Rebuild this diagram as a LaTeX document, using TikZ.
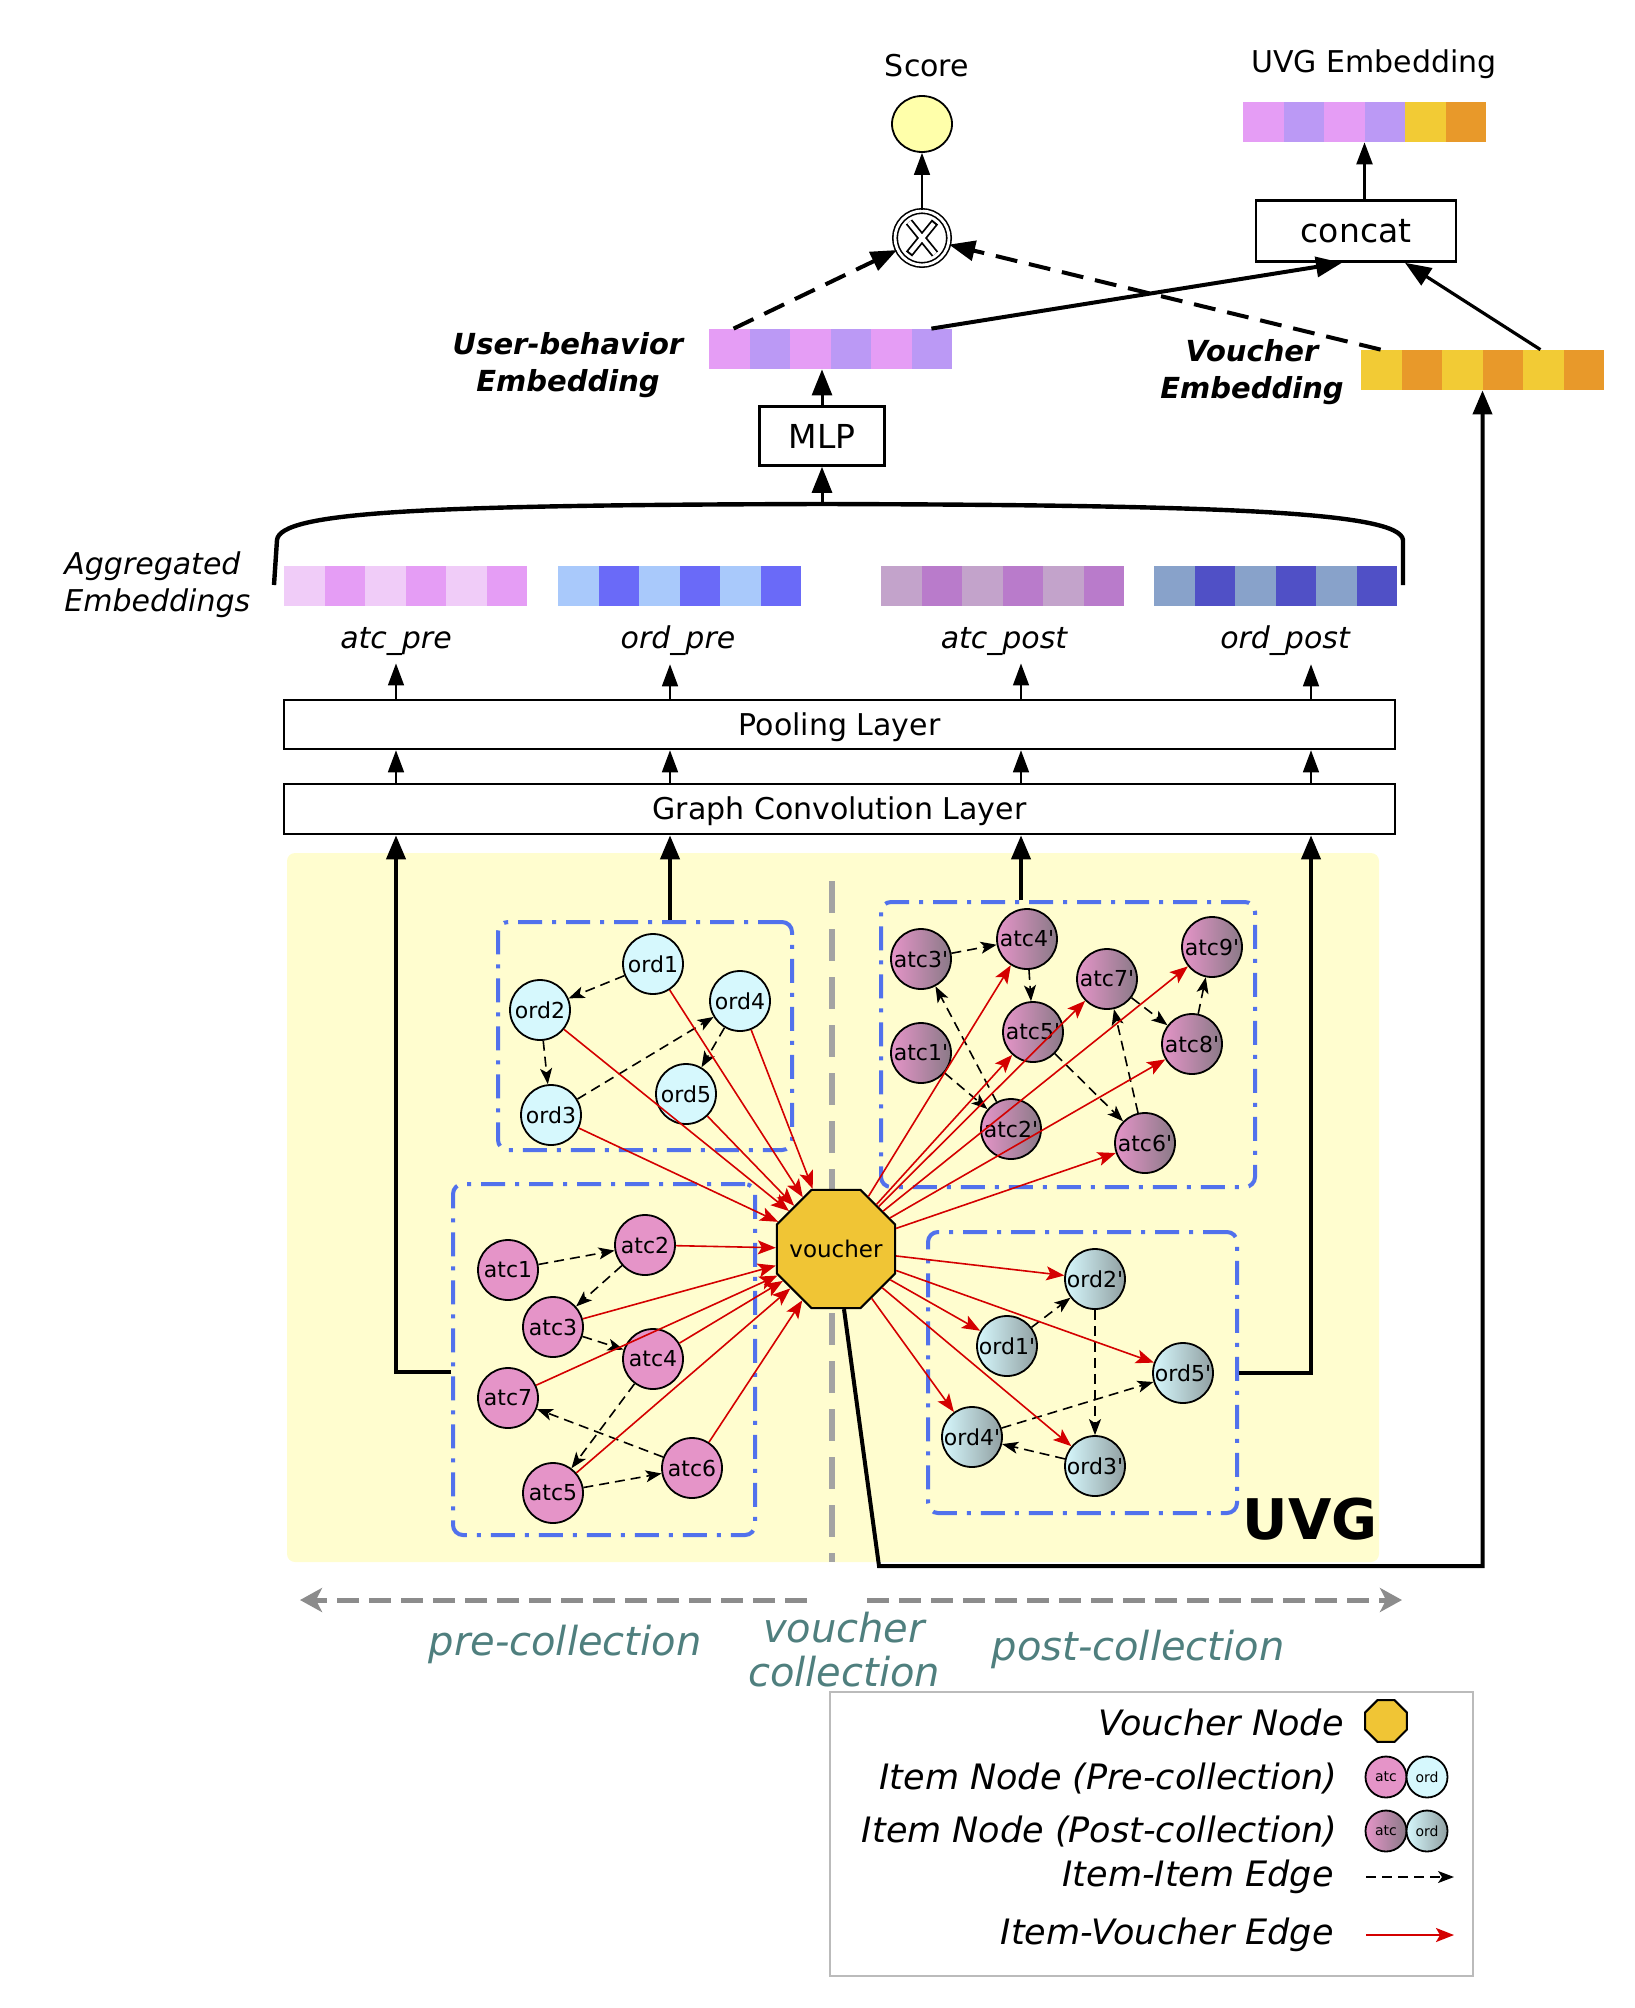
\documentclass[tikz,border=0pt]{standalone}
\usepackage{fontspec}
\setmainfont{DejaVu Sans}
\usepackage{xcolor}
\usetikzlibrary{arrows.meta,shapes.geometric,calc}

\definecolor{atcpink}{HTML}{E594C8}
\definecolor{atcgray}{HTML}{8A7A87}
\definecolor{ordcyan}{HTML}{D6F8FD}
\definecolor{ordgray}{HTML}{909FA1}
\definecolor{uvgyellow}{HTML}{FFFDCF}
\definecolor{groupblue}{HTML}{5171EC}
\definecolor{edgered}{HTML}{D40000}
\definecolor{vouchergold}{HTML}{F0C535}
\definecolor{scoreyellow}{HTML}{FFFFAA}
\definecolor{phaseteal}{HTML}{4F7F7E}
\definecolor{phasegray}{HTML}{8C8C8C}
\definecolor{legendgray}{HTML}{BBBBBB}
\definecolor{embpink}{HTML}{E59DF5}
\definecolor{emblav}{HTML}{BB99F5}
\definecolor{embyel}{HTML}{F2CB35}
\definecolor{emborange}{HTML}{E8992A}
\definecolor{aplight}{HTML}{F0CCF8}
\definecolor{oplight}{HTML}{A9C9FB}
\definecolor{opdark}{HTML}{6A6AF8}
\definecolor{aqlight}{HTML}{C3A3CB}
\definecolor{aqdark}{HTML}{B97BCB}
\definecolor{oqlight}{HTML}{88A2CA}
\definecolor{oqdark}{HTML}{5050C6}

\newcommand{\embbar}[4]{%
  \foreach \col [count=\i from 0] in {#4}
    \fill[\col] ({#2+40.5*\i},#3) rectangle ++(40.5,40);
  \node[minimum width=121.5pt, minimum height=20pt, inner sep=0pt] (#1) at ({#2+121.5},{#3+20}) {};
}
\newcommand{\prm}{\textquotesingle}

\begin{document}
\begin{tikzpicture}[x=0.5pt, y=-0.5pt,
  lbl/.style={font=\fontsize{15}{18}\selectfont, inner sep=0pt},
  itlbl/.style={font=\fontsize{15}{18.5}\selectfont\itshape, inner sep=0pt},
  box/.style={draw, line width=1.3pt, fill=white, inner sep=0pt},
  item/.style={circle, draw, line width=0.9pt, minimum size=30pt, inner sep=0pt, font=\fontsize{11}{13}\selectfont},
  atcpre/.style={item, fill=atcpink},
  ordpre/.style={item, fill=ordcyan},
  atcpost/.style={item, left color=atcpink, right color=atcgray},
  ordpost/.style={item, left color=ordcyan, right color=ordgray},
  groupbox/.style={draw=groupblue, line width=2pt, rounded corners=5pt, dash pattern=on 12pt off 5pt on 2pt off 5pt, inner sep=0pt},
  iiedge/.style={-{Stealth[length=8pt,width=6pt,inset=2pt]}, dash pattern=on 5pt off 3pt, line width=0.8pt},
  ivedge/.style={-{Stealth[length=9pt,width=7pt,inset=2pt]}, draw=edgered, line width=0.8pt},
  uplink/.style={-{Triangle[length=12pt,width=9.5pt]}, line width=2pt},
  thinup/.style={-{Triangle[length=11pt,width=8pt]}, line width=0.8pt},
  fuse/.style={-{Triangle[length=13pt,width=10pt]}, line width=2pt},
  fusedash/.style={fuse, dash pattern=on 11pt off 6pt},
  phasearrow/.style={-{Stealth[length=11pt,width=12pt,inset=3pt]}, draw=phasegray, line width=2.5pt, dash pattern=on 11pt off 5pt},
  phase/.style={font=\fontsize{20}{22}\selectfont\itshape, text=phaseteal, inner sep=0pt, align=center},
  legtext/.style={font=\fontsize{17.5}{20}\selectfont\itshape, inner sep=0pt, anchor=east},
  octa/.style={regular polygon, regular polygon sides=8, draw, line width=1pt, fill=vouchergold, inner sep=0pt}]

\useasboundingbox (0,0) rectangle (1634,2008);

\node[lbl] (scorelbl) at (927,66) {Score};
\node[ellipse, draw, line width=0.9pt, fill=scoreyellow, minimum width=30pt, minimum height=28pt] (score) at (922,124) {};
\node[circle, draw, double, line width=0.8pt, double distance=1.4pt, minimum size=27pt, inner sep=0pt] (prod) at (922,238) {};
\draw[line width=4pt] ($(prod)+(-13,-16)$) -- ($(prod)+(13,16)$) ($(prod)+(-13,16)$) -- ($(prod)+(13,-16)$);
\draw[white, line width=2.2pt, shorten >=1pt, shorten <=1pt] ($(prod)+(-13,-16)$) -- ($(prod)+(13,16)$) ($(prod)+(-13,16)$) -- ($(prod)+(13,-16)$);

\node[lbl] (uvglbl) at (1374,64) {UVG Embedding};
\embbar{uvgemb}{1243}{102}{embpink,emblav,embpink,emblav,embyel,emborange}
\node[box, minimum width=100pt, minimum height=30.5pt, font=\fontsize{16.5}{18}\selectfont] (concat) at (1356,231) {concat};

\embbar{ubemb}{709}{329}{embpink,emblav,embpink,emblav,embpink,emblav}
\embbar{vemb}{1361}{350}{embyel,emborange,embyel,emborange,embyel,emborange}
\node[font=\fontsize{14.5}{18.5}\selectfont\bfseries\itshape, align=center, inner sep=0pt] (ubelbl) at (568,365) {User-behavior\\Embedding};
\node[font=\fontsize{14.5}{18.5}\selectfont\bfseries\itshape, align=center, inner sep=0pt] (vemblbl) at (1252,372) {Voucher\\Embedding};
\node[box, minimum width=62.5pt, minimum height=29.5pt, font=\fontsize{16.5}{18}\selectfont] (mlp) at (822,436) {MLP};

\draw[fusedash] ([xshift=12.5pt]ubemb.north west) -- (prod);
\draw[fusedash] ([xshift=10pt]vemb.north west) -- (prod);
\draw[fuse] ([xshift=-10.5pt]ubemb.north east) -- ([xshift=-7pt]concat.south);
\draw[fuse, line width=1.6pt] ([xshift=-32pt]vemb.north east) -- ([xshift=24.5pt]concat.south);
\draw[thinup] (prod) -- (score);
\draw[thinup, line width=1.2pt] (concat.north -| uvgemb) -- (uvgemb.south);
\draw[fuse, line width=1.5pt] (mlp.north) -- (mlp.north |- ubemb.south);

\coordinate (bracetop) at (822,504);
\draw[line width=2.2pt] (274,585) -- (277,540) .. controls (280,512) and (420,505) .. (bracetop)
  .. controls (1224,505) and (1400,512) .. (1403,540) -- (1403,585);
\draw[fuse, line width=1.5pt] (bracetop) -- (mlp);

\node[itlbl, align=left, anchor=west] (agglbl) at (64,585) {Aggregated\\Embeddings};
\embbar{aggatcpre}{284}{566}{aplight,embpink,aplight,embpink,aplight,embpink}
\embbar{aggordpre}{558}{566}{oplight,opdark,oplight,opdark,oplight,opdark}
\embbar{aggatcpost}{881}{566}{aqlight,aqdark,aqlight,aqdark,aqlight,aqdark}
\embbar{aggordpost}{1154}{566}{oqlight,oqdark,oqlight,oqdark,oqlight,oqdark}
\node[itlbl] (atcprelbl) at (396,641) {atc\_pre};
\node[itlbl] (ordprelbl) at (678,641) {ord\_pre};
\node[itlbl] (atcpostlbl) at (1004,641) {atc\_post};
\node[itlbl] (ordpostlbl) at (1285,641) {ord\_post};

\coordinate (colA) at (396,0);
\coordinate (colB) at (670,0);
\coordinate (colC) at (1021,0);
\coordinate (colD) at (1311,0);

\node[box, lbl, minimum width=555.5pt, minimum height=24.5pt, text depth=0.5pt] (pool) at (839.5,724.5) {Pooling Layer};
\node[box, lbl, minimum width=555.5pt, minimum height=25pt, text depth=0.5pt] (gcl) at (839.5,809) {Graph Convolution Layer};
\foreach \c/\l in {colA/atcprelbl, colB/ordprelbl, colC/atcpostlbl, colD/ordpostlbl} {
  \draw[thinup, shorten >=4pt] (pool.north -| \c) -- (\l.south -| \c);
  \draw[thinup] (gcl.north -| \c) -- (pool.south -| \c);
}

\fill[uvgyellow, rounded corners=4pt] (287,853) rectangle (1379,1562);
\draw[phasegray!80, line width=3pt, dash pattern=on 16pt off 8pt] (832,881) -- (832,1562);

\node[groupbox, minimum width=147pt, minimum height=114pt] (ordbox) at (645,1036) {};
\node[groupbox, minimum width=151pt, minimum height=175.5pt] (atcbox) at (604,1359.5) {};
\node[groupbox, minimum width=187pt, minimum height=142.5pt] (atcpbox) at (1068,1044.5) {};
\node[groupbox, minimum width=154.5pt, minimum height=140.5pt] (ordpbox) at (1082.5,1372.5) {};
\node[font=\fontsize{28}{30}\selectfont\bfseries, inner sep=0pt] (uvgtitle) at (1310,1519) {UVG};

\draw[uplink] ([yshift=-6pt]atcbox.west) -| (gcl.south -| colA);
\draw[uplink] (ordbox.north -| colB) -- (gcl.south -| colB);
\draw[uplink] (atcpbox.north -| colC) -- (gcl.south -| colC);
\draw[uplink] (ordpbox.east) -| (gcl.south -| colD);

\node[octa, minimum size=64pt, label={[font=\fontsize{11.5}{13}\selectfont, inner sep=0pt]center:voucher}] (voucher) at (836,1249) {};
\coordinate (vbend) at (879,1566);
\draw[uplink] ([xshift=4pt]voucher.south) -- (vbend) -| (vemb.south);

\node[ordpre] (ord1) at (653,964) {ord1};
\node[ordpre] (ord2) at (540,1010) {ord2};
\node[ordpre] (ord3) at (551,1115) {ord3};
\node[ordpre] (ord4) at (740,1001) {ord4};
\node[ordpre] (ord5) at (686,1094) {ord5};

\node[atcpre] (atc1) at (508,1270) {atc1};
\node[atcpre] (atc2) at (645,1245) {atc2};
\node[atcpre] (atc3) at (553,1327) {atc3};
\node[atcpre] (atc4) at (653,1359) {atc4};
\node[atcpre] (atc5) at (553,1493) {atc5};
\node[atcpre] (atc6) at (692,1468) {atc6};
\node[atcpre] (atc7) at (508,1398) {atc7};

\node[atcpost] (atcp1) at (921,1053) {atc1\prm};
\node[atcpost] (atcp2) at (1011,1129) {atc2\prm};
\node[atcpost] (atcp3) at (921,959) {atc3\prm};
\node[atcpost] (atcp4) at (1027,939) {atc4\prm};
\node[atcpost] (atcp5) at (1033,1032) {atc5\prm};
\node[atcpost] (atcp6) at (1145,1143) {atc6\prm};
\node[atcpost] (atcp7) at (1107,979) {atc7\prm};
\node[atcpost] (atcp8) at (1192,1044) {atc8\prm};
\node[atcpost] (atcp9) at (1212,947) {atc9\prm};

\node[ordpost] (ordp1) at (1007,1346) {ord1\prm};
\node[ordpost] (ordp2) at (1095,1279) {ord2\prm};
\node[ordpost] (ordp3) at (1095,1466) {ord3\prm};
\node[ordpost] (ordp4) at (972,1437) {ord4\prm};
\node[ordpost] (ordp5) at (1183,1373) {ord5\prm};

\foreach \a/\b in {ord1/ord2, ord2/ord3, ord3/ord4, ord4/ord5,
                   atc1/atc2, atc2/atc3, atc3/atc4, atc4/atc5, atc5/atc6, atc6/atc7,
                   atcp3/atcp4, atcp4/atcp5, atcp1/atcp2, atcp2/atcp3, atcp5/atcp6,
                   atcp6/atcp7, atcp7/atcp8, atcp8/atcp9,
                   ordp1/ordp2, ordp2/ordp3, ordp3/ordp4, ordp4/ordp5}
  \draw[iiedge] (\a) -- (\b);

\foreach \n in {ord1, ord2, ord3, ord4, ord5, atc2, atc3, atc4, atc5, atc6, atc7}
  \draw[ivedge] (\n) -- (voucher);
\foreach \n in {atcp4, atcp5, atcp6, atcp7, atcp8, atcp9, ordp1, ordp2, ordp3, ordp4, ordp5}
  \draw[ivedge] (voucher) -- (\n);

\coordinate (prestart) at (807,1600);
\coordinate (preend) at (300,1600);
\coordinate (poststart) at (867,1600);
\coordinate (postend) at (1402,1600);
\draw[phasearrow] (prestart) -- (preend);
\draw[phasearrow] (poststart) -- (postend);
\node[phase] (prelbl) at (565,1644) {pre-collection};
\node[phase] (vclbl) at (844,1650) {voucher\\collection};
\node[phase] (postlbl) at (1138,1649) {post-collection};

\node[draw=legendgray, line width=1pt, minimum width=321.5pt, minimum height=142pt, inner sep=0pt] (legend) at (1151.5,1834) {};
\node[legtext] (lgvn) at (1344,1722) {Voucher Node};
\node[octa, minimum size=22.5pt] (lgvoucher) at (1386,1721) {};
\node[legtext] (lgpre) at (1338,1778) {Item Node (Pre-collection)};
\node[atcpre, minimum size=20.5pt, font=\fontsize{7}{8}\selectfont] (lgatc) at (1386,1777) {atc};
\node[ordpre, minimum size=20.5pt, font=\fontsize{7}{8}\selectfont] (lgord) at (1427,1777) {ord};
\node[legtext] (lgpost) at (1338,1831) {Item Node (Post-collection)};
\node[atcpost, minimum size=20.5pt, font=\fontsize{7}{8}\selectfont] (lgatcp) at (1386,1831) {atc};
\node[ordpost, minimum size=20.5pt, font=\fontsize{7}{8}\selectfont] (lgordp) at (1427,1831) {ord};
\node[legtext] (lgii) at (1334,1877) {Item-Item Edge};
\coordinate (lgiia) at (1366,1877);
\coordinate (lgiib) at (1454,1877);
\draw[iiedge] (lgiia) -- (lgiib);
\node[legtext] (lgiv) at (1334,1935) {Item-Voucher Edge};
\coordinate (lgiva) at (1366,1935);
\coordinate (lgivb) at (1454,1935);
\draw[ivedge, line width=1pt] (lgiva) -- (lgivb);

\end{tikzpicture}
\end{document}
